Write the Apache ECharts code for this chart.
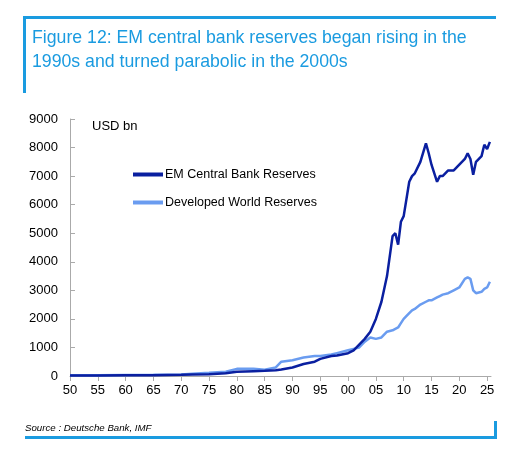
<!DOCTYPE html>
<html><head><meta charset="utf-8">
<script src="https://cdn.jsdelivr.net/npm/echarts@6/dist/echarts.min.js"></script>
<style>html,body{margin:0;padding:0;background:#fff}#c{width:519px;height:456px}</style>
</head><body><div id="c"></div>
<script>
const years = [1950,1955,1960,1965,1970,1972,1975,1978,1980,1983,1985,1987,1988,1990,1992,1994,1995,1997,1998,2000,2001,2002,2003,2004,2005,2006,2007,2008,2008.5,2009,2009.5,2010,2011,2011.5,2012,2013,2014,2014.5,2015,2016,2016.5,2017,2018,2019,2020,2021,2021.5,2022,2022.5,2023,2024,2024.5,2025,2025.5];
const emReserves = [20,20,25,30,40,50,60,100,150,170,180,200,230,300,420,500,600,700,720,800,900,1100,1300,1550,2000,2600,3500,4900,5000,4600,5400,5600,6800,7000,7100,7500,8150,7800,7400,6800,7000,7000,7200,7200,7400,7600,7800,7600,7050,7500,7700,8100,7950,8200];
const dwReserves = [30,30,35,40,50,80,110,150,250,250,220,300,500,550,650,700,700,750,800,900,950,1000,1200,1350,1300,1350,1550,1600,1650,1700,1850,2000,2200,2300,2350,2500,2600,2650,2650,2750,2800,2850,2900,3000,3100,3400,3450,3400,3000,2900,2950,3050,3100,3300];
const xTicks = ['50','55','60','65','70','75','80','85','90','95','00','05','10','15','20','25'];
const yMax = 9000;
const pair = a => years.map((y,i)=>[y,a[i]]);
const c = echarts.init(document.getElementById('c'));
const blue = '#1a9be0';
c.setOption({
  animation:false,
  textStyle:{fontFamily:'Liberation Sans, Arial, sans-serif'},
  graphic:[
    {type:'rect',shape:{x:23,y:16,width:473,height:3},style:{fill:blue}},
    {type:'rect',shape:{x:23,y:16,width:3,height:77},style:{fill:blue}},
    {type:'text',left:32,top:26,style:{text:'Figure 12: EM central bank reserves began rising in the\n1990s and turned parabolic in the 2000s',fill:blue,font:'17.7px Liberation Sans, Arial, sans-serif',lineHeight:24}},
    {type:'text',left:92,top:120,style:{text:'USD bn',fill:'#000',font:'13px Liberation Sans, Arial, sans-serif'}},
    {type:'text',left:25,top:423,style:{text:'Source : Deutsche Bank, IMF',fill:'#000',font:'italic 9.7px Liberation Sans, Arial, sans-serif'}},
    {type:'rect',shape:{x:25,y:436,width:472,height:3},style:{fill:blue}},
    {type:'rect',shape:{x:494,y:421,width:3,height:18},style:{fill:blue}}
  ],
  legend:{orient:'vertical',left:128,top:163,itemWidth:30,itemHeight:4,itemGap:15,
    textStyle:{fontSize:12.5,color:'#000',padding:[0,0,0,-3]},icon:'rect',
    data:['EM Central Bank Reserves','Developed World Reserves']},
  grid:{left:70,right:28,top:119,bottom:80,containLabel:false},
  xAxis:{type:'value',min:1950,max:2025.7,interval:5,
    axisLine:{lineStyle:{color:'#aaa'}},axisTick:{lineStyle:{color:'#aaa'},length:5},
    splitLine:{show:false},showMaxLabel:false,
    axisLabel:{color:'#000',fontSize:13,margin:8,formatter:v=>xTicks[Math.round((v-1950)/5)]||''}},
  yAxis:{type:'value',min:0,max:yMax,interval:1000,
    axisLine:{show:true,lineStyle:{color:'#aaa'}},axisTick:{show:true,inside:true,length:5,lineStyle:{color:'#aaa'}},
    splitLine:{show:false},axisLabel:{color:'#000',fontSize:13,margin:12,formatter:v=>String(v)}},
  series:[
    {name:'Developed World Reserves',type:'line',data:pair(dwReserves),showSymbol:false,z:2,
      lineStyle:{color:'#6a9cf0',width:2.5},itemStyle:{color:'#6a9cf0'}},
    {name:'EM Central Bank Reserves',type:'line',data:pair(emReserves),showSymbol:false,z:3,
      lineStyle:{color:'#0a1fa0',width:2.5},itemStyle:{color:'#0a1fa0'}}
  ]
});
</script></body></html>
